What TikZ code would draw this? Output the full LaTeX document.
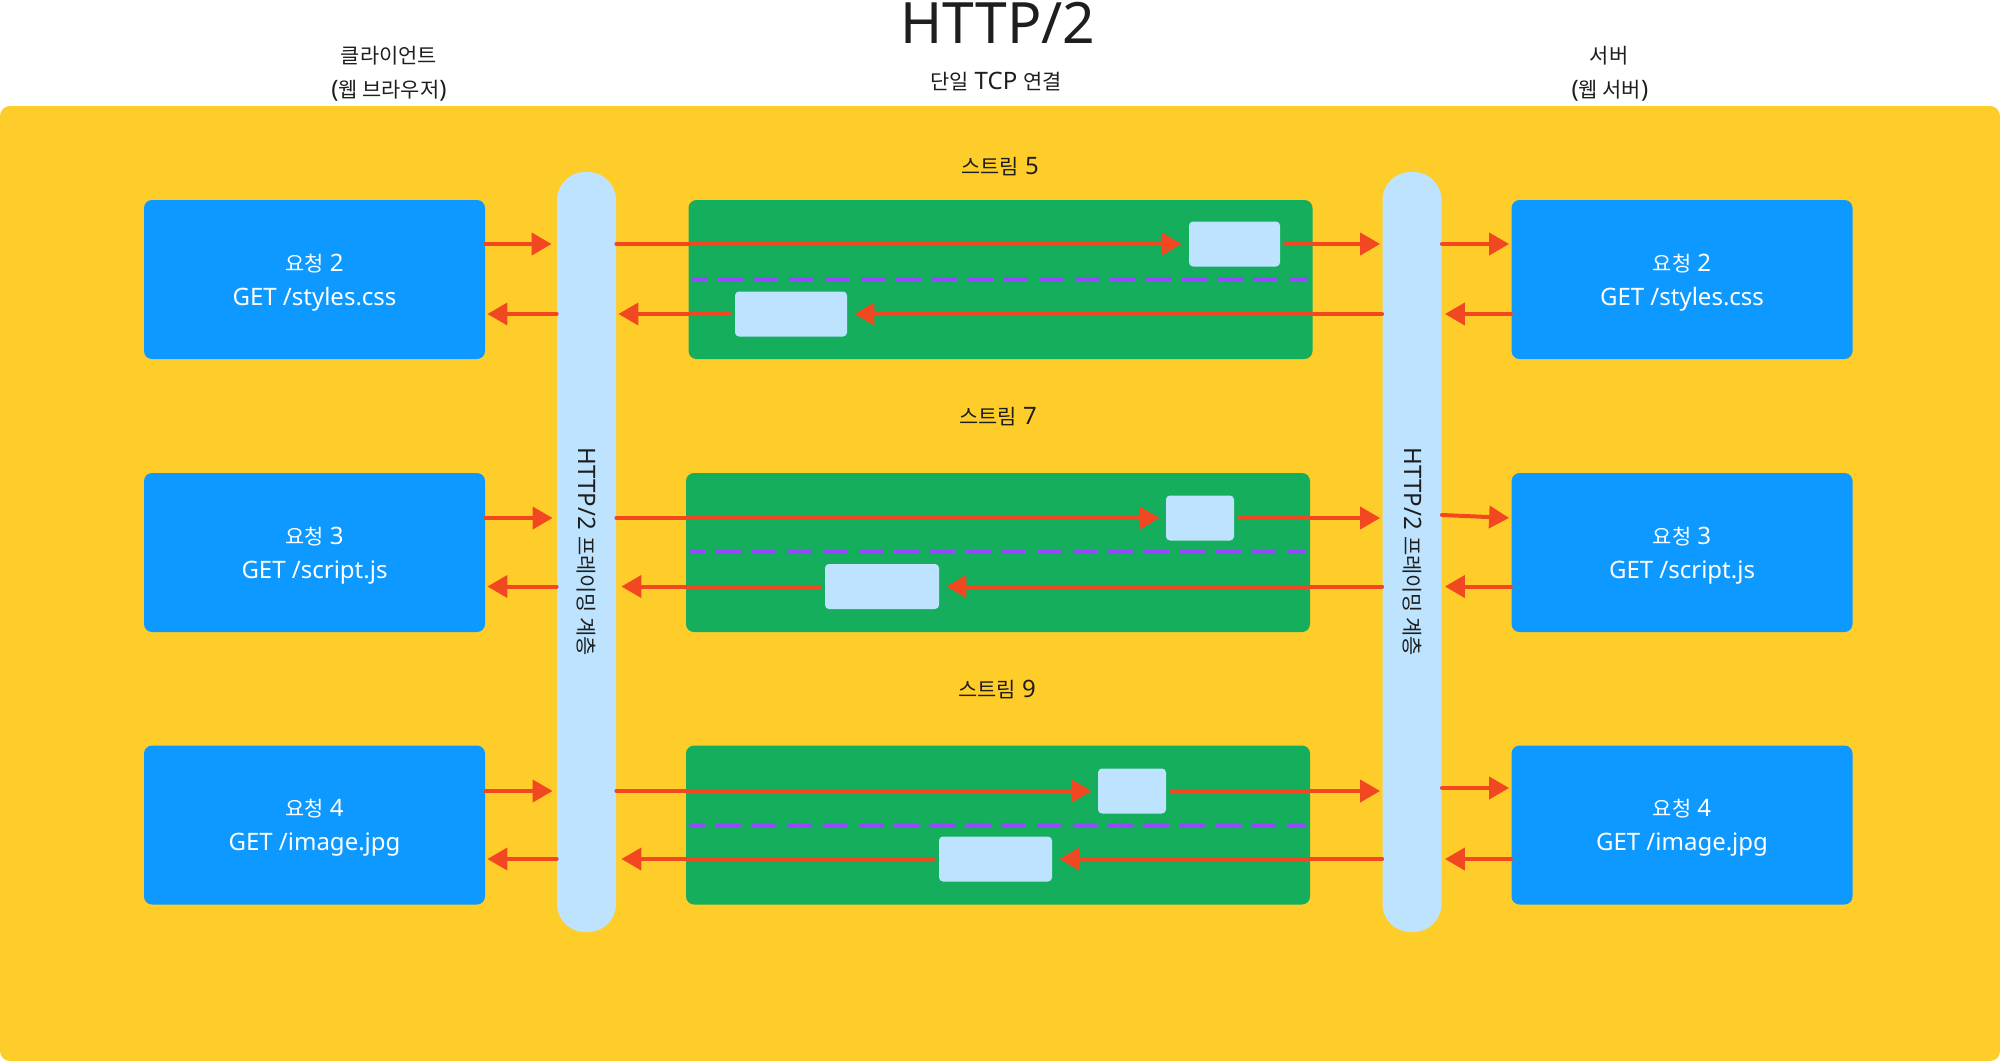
\documentclass[tikz,border=0pt]{standalone}
\usepackage{fontspec}
\setmainfont{Noto Sans}
\newfontfamily\krfont[Scale=0.87]{Noto Sans CJK KR}
\newcommand\hg[1]{{\krfont #1}}
\usetikzlibrary{arrows.meta}
\definecolor{ybg}{HTML}{FFCD29}
\definecolor{cblue}{HTML}{0D99FF}
\definecolor{cgreen}{HTML}{14AE5C}
\definecolor{clight}{HTML}{BDE3FF}
\definecolor{cred}{HTML}{F24822}
\definecolor{cpurple}{HTML}{9747FF}
\definecolor{cdark}{HTML}{1E1E1E}
\begin{document}
\begin{tikzpicture}[x=0.5pt,y=-0.5pt,
  lbl/.style={anchor=base,text=cdark,inner sep=0pt,font=\fontsize{12pt}{17pt}\selectfont},
  reqbox/.style={fill=cblue,rounded corners=4pt,minimum width=170.5pt,minimum height=79.5pt,
    text=white,align=center,inner sep=0pt,text depth=0pt,font=\fontsize{12pt}{17pt}\selectfont},
  streambox/.style={fill=cgreen,rounded corners=4pt,minimum width=312pt,minimum height=79.5pt,inner sep=0pt},
  pillar/.style={fill=clight,rounded corners=14pt,minimum width=29.5pt,minimum height=380pt,inner sep=0pt},
  frame/.style={fill=clight,rounded corners=2pt,minimum height=22.5pt,inner sep=0pt},
  arr/.style={draw=cred,line width=2pt,line cap=round,-{Triangle[length=10pt,width=11pt]},fill=cred},
  sep/.style={draw=cpurple,line width=2pt,dash pattern=on 12.5pt off 5.35pt,dash phase=5pt}]
\useasboundingbox (0,0) rectangle (2000,1061);
\fill[ybg,rounded corners=5pt] (0,106) rectangle (2000,1061);
% header texts
\node[lbl,font=\fontsize{28.5pt}{34pt}\selectfont] (title) at (998,43) {HTTP/2};
\node[lbl] (tcp) at (996,89) {\hg{단일} TCP \hg{연결}};
\node[lbl] (cli1) at (389,63) {\hg{클라이언트}};
\node[lbl] (cli2) at (389,97) {(\hg{웹 브라우저})};
\node[lbl] (srv1) at (1609,63) {\hg{서버}};
\node[lbl] (srv2) at (1610,97) {(\hg{웹 서버})};
% pillars
\node[pillar] (pL) at (586.5,552) {};
\node[pillar] (pR) at (1412,552) {};
\node[lbl,anchor=center,rotate=-90] (pLt) at (pL.center) {HTTP/2 \hg{프레이밍 계층}};
\node[lbl,anchor=center,rotate=-90] (pRt) at (pR.center) {HTTP/2 \hg{프레이밍 계층}};
% request boxes
\node[reqbox] (bL1) at (314.5,279.5) {\hg{요청} 2\\GET /styles.css};
\node[reqbox] (bL2) at (314.5,552.5) {\hg{요청} 3\\GET /script.js};
\node[reqbox] (bL3) at (314.5,825) {\hg{요청} 4\\GET /image.jpg};
\node[reqbox] (bR1) at (1682,279.5) {\hg{요청} 2\\GET /styles.css};
\node[reqbox] (bR2) at (1682,552.5) {\hg{요청} 3\\GET /script.js};
\node[reqbox] (bR3) at (1682,825) {\hg{요청} 4\\GET /image.jpg};
% streams
\node[lbl] (st1) at (1000,174) {\hg{스트림} 5};
\node[lbl] (st2) at (998,424) {\hg{스트림} 7};
\node[lbl] (st3) at (997,697) {\hg{스트림} 9};
\node[streambox] (g1) at (1000.5,279.5) {};
\node[streambox] (g2) at (998,552.5) {};
\node[streambox] (g3) at (998,825) {};
% row levels
\coordinate (t1) at (0,244);   \coordinate (b1) at (0,314);
\coordinate (t2) at (0,518);   \coordinate (b2) at (0,586.5);
\coordinate (t3) at (0,791);   \coordinate (b3) at (0,859);
\coordinate (r2) at (0,515);   \coordinate (r3) at (0,788);
% dashed separators
\coordinate (d1a) at (692,279); \coordinate (d1b) at (1308,279);
\coordinate (d2a) at (690,552); \coordinate (d2b) at (1306,552);
\coordinate (d3a) at (690,825); \coordinate (d3b) at (1306,825);
\draw[sep] (d1a) -- (d1b);
\draw[sep] (d2a) -- (d2b);
\draw[sep] (d3a) -- (d3b);
% frames
\node[frame,minimum width=45.5pt] (s1a) at (1234.5,244) {};
\node[frame,minimum width=56pt] (s1b) at (791,314) {};
\node[frame,minimum width=34pt] (s2a) at (1200,518) {};
\node[frame,minimum width=57pt] (s2b) at (882,586.5) {};
\node[frame,minimum width=34pt] (s3a) at (1132,791) {};
\node[frame,minimum width=56.5pt] (s3b) at (995.5,859) {};
% row 1 arrows
\draw[arr,shorten >=2.5pt] (bL1.east |- t1) -- (pL.west |- t1);
\draw[arr,shorten >=1pt] (pL.west |- b1) -- (bL1.east |- b1);
\draw[arr,shorten >=3.5pt] (pL.east |- t1) -- (s1a.west |- t1);
\draw[arr,shorten <=2.5pt,shorten >=1pt] (s1a.east |- t1) -- (pR.west |- t1);
\draw[arr,shorten >=1pt] (pR.east |- t1) -- (bR1.west |- t1);
\draw[arr,shorten >=1.5pt] (bR1.west |- b1) -- (pR.east |- b1);
\draw[arr,shorten >=3.5pt] (pR.west |- b1) -- (s1b.east |- b1);
\draw[arr,shorten <=2.5pt,shorten >=1pt] (s1b.west |- b1) -- (pL.east |- b1);
% row 2 arrows
\draw[arr,shorten >=2pt] (bL2.east |- t2) -- (pL.west |- t2);
\draw[arr,shorten >=1pt] (pL.west |- b2) -- (bL2.east |- b2);
\draw[arr,shorten >=3pt] (pL.east |- t2) -- (s2a.west |- t2);
\draw[arr,shorten <=2.5pt,shorten >=1pt] (s2a.east |- t2) -- (pR.west |- t2);
\draw[arr,shorten >=1pt] (pR.east |- r2) -- (bR2.west |- t2);
\draw[arr,shorten >=1.5pt] (bR2.west |- b2) -- (pR.east |- b2);
\draw[arr,shorten >=3.5pt] (pR.west |- b2) -- (s2b.east |- b2);
\draw[arr,shorten <=2.5pt,shorten >=2.5pt] (s2b.west |- b2) -- (pL.east |- b2);
% row 3 arrows
\draw[arr,shorten >=2pt] (bL3.east |- t3) -- (pL.west |- t3);
\draw[arr,shorten >=1pt] (pL.west |- b3) -- (bL3.east |- b3);
\draw[arr,shorten >=3pt] (pL.east |- t3) -- (s3a.west |- t3);
\draw[arr,shorten <=2.5pt,shorten >=1pt] (s3a.east |- t3) -- (pR.west |- t3);
\draw[arr,shorten >=1pt] (pR.east |- r3) -- (bR3.west |- r3);
\draw[arr,shorten >=1.5pt] (bR3.west |- b3) -- (pR.east |- b3);
\draw[arr,shorten >=3.5pt] (pR.west |- b3) -- (s3b.east |- b3);
\draw[arr,shorten <=2.5pt,shorten >=2.5pt] (s3b.west |- b3) -- (pL.east |- b3);
\end{tikzpicture}
\end{document}
